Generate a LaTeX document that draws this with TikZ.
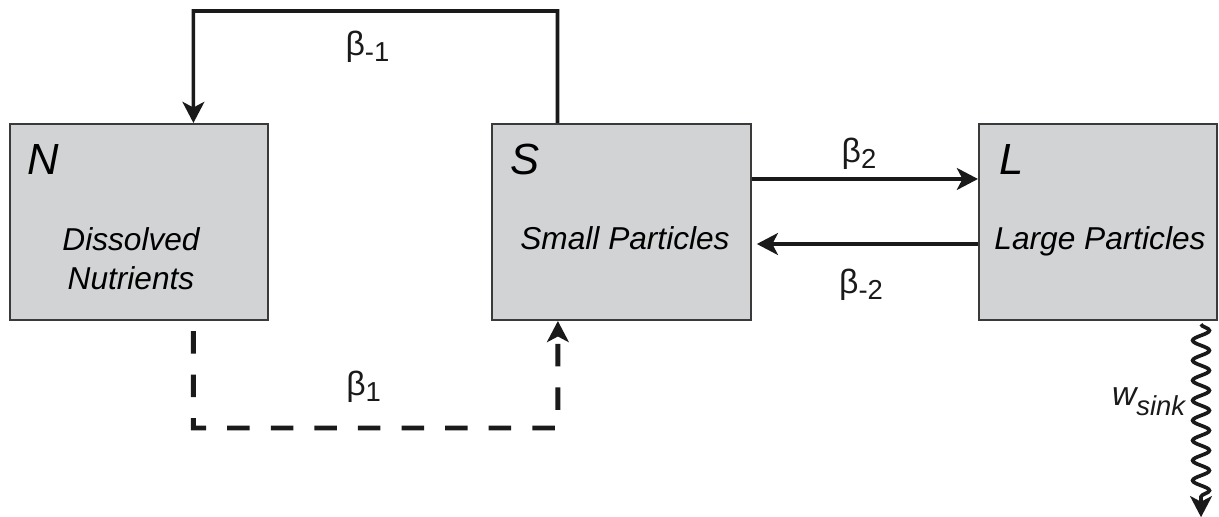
\documentclass[tikz,border=0pt]{standalone}
\usepackage{fontspec}
\setmainfont{Liberation Sans}
\usetikzlibrary{positioning,calc,arrows.meta,decorations.pathmorphing}
\definecolor{BoxFill}{HTML}{D2D3D5}
\definecolor{BoxLine}{HTML}{3A3A3A}
\definecolor{FluxBlack}{HTML}{1A1A1A}
\newcommand{\ratesub}[2][4pt]{\raisebox{-#1}{\fontsize{19.5}{22}\selectfont #2}}

\begin{document}
\begin{tikzpicture}[x=0.025cm, y=-0.025cm, >={Stealth[length=15pt,width=15.5pt,inset=4pt]},
  pool/.style={draw=BoxLine, line width=1.4pt, fill=BoxFill, rectangle, minimum height=4.9cm, inner sep=0pt},
  tag/.style={font=\fontsize{31}{36}\selectfont\itshape, anchor=base west, inner sep=0pt},
  desc/.style={font=\fontsize{22.5}{28.4}\selectfont\itshape, align=center, anchor=base},
  rate/.style={font=\fontsize{24}{28.4}\selectfont},
  flux/.style={->, line width=2.6pt, FluxBlack},
  swap/.style={flux, line width=3.4pt},
  uptake/.style={flux, line width=3.5pt, dash pattern=on 16pt off 15pt}]
  \useasboundingbox (0,0) rectangle (1219,517);

  % Pools
  \node [pool, minimum width=6.45cm] (nutr) at (139,222) {};
  \node [pool, minimum width=6.475cm] (small) at (621.5,222) {};
  \node [pool, minimum width=5.95cm] (large) at (1098,222) {};
  \node [tag] (nlab) at (27,175) {N};
  \node [tag] (slab) at (510,175) {S};
  \node [tag] (llab) at (999,175) {L};
  \node [desc] (ndesc) at (131,290) {Dissolved\\Nutrients};
  \node [desc] (sdesc) at (625,250) {Small Particles};
  \node [desc] (ldesc) at (1100,250) {Large Particles};

  % Fluxes
  \draw [flux] ([xshift=-1.6cm]small.north) -- ++(0,-112)
    -- node [rate, below=0.35cm, xshift=-0.2cm] (bm1) {β\ratesub{-1}} ([xshift=1.36cm, yshift=2.8cm]nutr.north)
    -- ([xshift=1.36cm]nutr.north);
  \draw [swap] ([yshift=1.075cm]small.east) -- node [rate, above=0.05cm, xshift=-0.15cm] (b2) {β\ratesub{2}} ([yshift=1.075cm]large.west);
  \draw [swap, shorten >=0.12cm] ([yshift=-0.55cm]large.west) -- node [rate, below=0.45cm, xshift=-0.1cm] (bm2) {β\ratesub{-2}} ([yshift=-0.55cm]small.east);
  \draw [uptake] ([xshift=1.36cm, yshift=-0.25cm]nutr.south) -- ++(0,97)
    -- node [rate, above=0.45cm, xshift=-0.3cm] (b1) {β\ratesub{1}} ([xshift=-1.59cm, yshift=-2.675cm]small.south)
    -- ([xshift=-1.59cm]small.south);
  \draw [flux, decorate, decoration={snake, amplitude=0.21cm, segment length=0.5cm, post length=0.4cm}]
    ([xshift=2.575cm, yshift=-0.08cm]large.south) -- node [pos=0.4, left=0.35cm, inner sep=0pt] (wsink) {\fontsize{24}{28}\selectfont\itshape w\ratesub[7pt]{sink}} ++(0,193);
\end{tikzpicture}
\end{document}
